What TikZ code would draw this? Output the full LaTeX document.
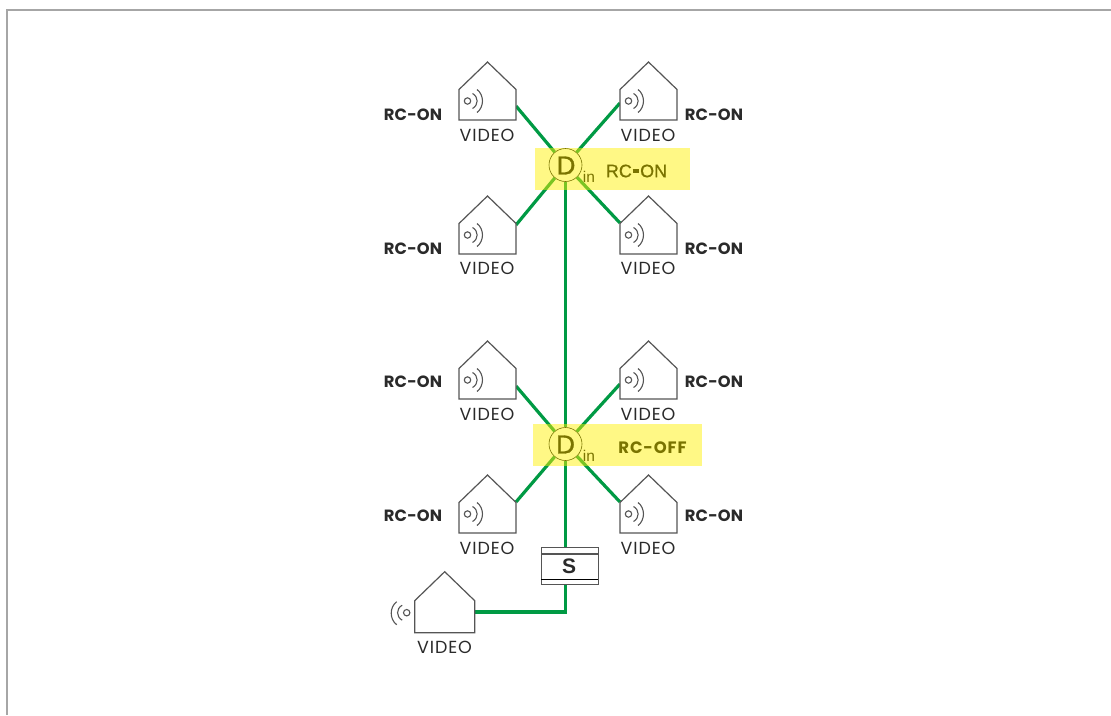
\documentclass[tikz,border=0pt]{standalone}
\usepackage{fontspec}
\setmainfont{Liberation Sans}
\newfontfamily\pop[LetterSpace=5]{Poppins}
\newfontfamily\popb[LetterSpace=1]{Poppins}
\newfontfamily\popm[LetterSpace=5]{Poppins}
\newfontfamily\arialm[FakeBold=0.8]{Liberation Sans}
\newfontfamily\ariald[FakeBold=1.2]{Liberation Sans}
\usetikzlibrary{calc}
\definecolor{linkgreen}{HTML}{009A44}
\definecolor{outline}{HTML}{555555}
\definecolor{inktext}{HTML}{2A2A2A}
\tikzset{
  x=1pt,y=-1pt,
  link/.style={draw=linkgreen,line width=3.2pt},
  outl/.style={draw=outline,line width=1.2pt,line join=miter},
  wave/.style={draw=outline,line width=1.1pt},
  rclabel/.style={font=\popb\bfseries\fontsize{16.3}{17}\selectfont,text=inktext,inner sep=0pt},
  vidlabel/.style={font=\pop\fontsize{17.5}{18}\selectfont,text=inktext,inner sep=0pt},
  dnode/.style={circle,draw=black,line width=.6pt,fill=white,minimum size=33pt,inner sep=0pt},
  dlabel/.style={inner sep=0pt,font=\ariald\fontsize{26}{26}\selectfont},
  subin/.style={font=\fontsize{15.5}{15}\selectfont,inner sep=0pt},
  yellowband/.style={fill=yellow,fill opacity=.48,draw=none},
  house/.pic={
    \path[outl,fill=white] (0,27.5) -- (28.5,0) -- (57,27.5) -- (57,58) -- (0,58) -- cycle;
    \draw[wave] (8.5,39) circle[radius=3.2pt];
    \draw[wave] (13.5,31.5) .. controls (19.7,35) and (19.7,43) .. (13.5,46.5);
    \draw[wave] (18,27.5) .. controls (25.3,33) and (25.3,45) .. (18,50.5);
  },
  bighouse/.pic={
    \path[outl,fill=white] (0,29) -- (30,0) -- (60,29) -- (60,61) -- (0,61) -- cycle;
    \draw[wave] (-8,41) circle[radius=3.2pt];
    \draw[wave] (-12.5,33.5) .. controls (-18.7,37) and (-18.7,45) .. (-12.5,48.5);
    \draw[wave] (-18,30) .. controls (-25.3,35.5) and (-25.3,47.5) .. (-18,53);
  }
}
\begin{document}
\begin{tikzpicture}
\useasboundingbox (0,0) rectangle (1111,715);
\fill[white] (0,0) rectangle (1111,715);
\coordinate (fa) at (7,715); \coordinate (fb) at (7,10); \coordinate (fc) at (1111,10);
\draw[color=black!35,line width=1.3pt] (fa) -- (fb) -- (fc);

% attachment points on the houses
\coordinate (a1) at (516,106);
\coordinate (a2) at (620,103);
\coordinate (a3) at (516,225);
\coordinate (a4) at (620,223);
\coordinate (a5) at (516,386);
\coordinate (a6) at (620,384);
\coordinate (a7) at (516,502);
\coordinate (a8) at (620,502);
\coordinate (a9) at (474.7,612);

\node[dnode] (d1) at (565.5,165) {};
\node[dnode] (d2) at (565.5,444) {};
\node[draw=outline,line width=1pt,fill=white,minimum width=57pt,minimum height=37.5pt,inner sep=0pt] (s) at (569.5,566) {};

\draw[link] (a1) -- (d1);
\draw[link] (a2) -- (d1);
\draw[link] (a3) -- (d1);
\draw[link] (a4) -- (d1);
\draw[link] (d1) -- (d2);
\draw[link] (a5) -- (d2);
\draw[link] (a6) -- (d2);
\draw[link] (a7) -- (d2);
\draw[link] (a8) -- (d2);
\draw[link] (d2) -- (d2 |- s.north);
\draw[link,line join=miter] (d2 |- s.south) |- (a9);

\coordinate (s1a) at (541,554); \coordinate (s1b) at (598,554);
\coordinate (s2a) at (541,579); \coordinate (s2b) at (598,579);
\draw[draw=outline,line width=1.2pt] (s1a) -- (s1b);
\draw[draw=black,line width=1pt] (s2a) -- (s2b);
\node[font=\fontsize{21}{21}\selectfont\bfseries,inner sep=0pt,text=inktext] (slabel) at (569,566.5) {S};

\pic (h1) at (459,62) {house};
\pic (h2) at (620,62) {house};
\pic (h3) at (459,196) {house};
\pic (h4) at (620,196) {house};
\pic (h5) at (459,341) {house};
\pic (h6) at (620,341) {house};
\pic (h7) at (459,475) {house};
\pic (h8) at (620,475) {house};
\pic (h9) at (414.7,571.7) {bighouse};

\foreach \n/\x/\y in {l1/413/114.6,l2/714/114.6,l3/413/248.6,l4/714/248.6,l5/413/381.6,l6/714/381.6,l7/413/515.6,l8/714/515.6}
  \node[rclabel] (\n) at (\x,\y) {RC-ON};
\foreach \n/\x/\y in {v1/487/135.5,v2/648/135.5,v3/487/268.5,v4/648/268.5,v5/487/414.5,v6/648/414.5,v7/487/548.5,v8/648/548.5,v9/444.5/647.5}
  \node[vidlabel] (\n) at (\x,\y) {VIDEO};

\node[dlabel] (dt1) at (566,165.5) {D};
\node[dlabel] (dt2) at (565.5,444.5) {D};
\node[subin] (in1) at (589,177) {in};
\node[subin] (in2) at (589,456) {in};
\node[inner sep=0pt,font=\arialm\fontsize{18}{18}\selectfont] (rc1) at (636.5,171) {RC\hspace{.04em}\rule[.25em]{.38em}{.2em}\hspace{.04em}ON};
\node[inner sep=0pt,font=\popm\bfseries\fontsize{16.5}{17}\selectfont] (rc2) at (652.5,448) {RC-OFF};

\fill[yellowband] (535,148) rectangle (690,190);
\fill[yellowband] (533,424) rectangle (702,466);
\end{tikzpicture}
\end{document}
